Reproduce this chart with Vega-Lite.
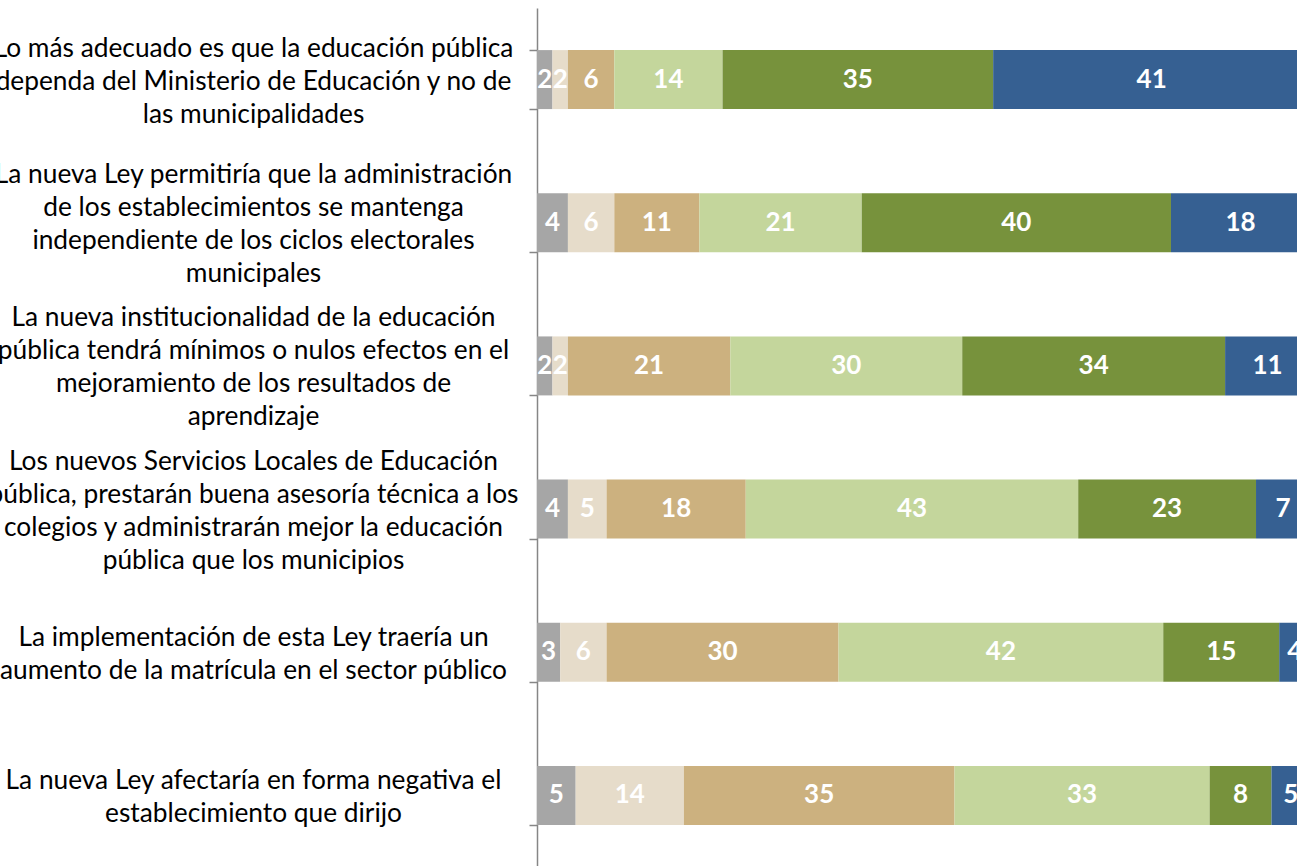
{
  "$schema": "https://vega.github.io/schema/vega-lite/v6.json",
  "autosize": {"type": "none"},
  "padding": {"left": 537, "top": 8, "right": 0, "bottom": 0},
  "width": 760,
  "height": 859,
  "background": "white",
  "config": {"view": {"stroke": null}},
  "datasets": {
    "rows": [
      {"item": "Lo más adecuado es que la educación pública|dependa del Ministerio de Educación y no de|las municipalidades", "cat": "NS/NR", "ord": 1, "value": 2},
      {"item": "Lo más adecuado es que la educación pública|dependa del Ministerio de Educación y no de|las municipalidades", "cat": "Muy en desacuerdo", "ord": 2, "value": 2},
      {"item": "Lo más adecuado es que la educación pública|dependa del Ministerio de Educación y no de|las municipalidades", "cat": "En desacuerdo", "ord": 3, "value": 6},
      {"item": "Lo más adecuado es que la educación pública|dependa del Ministerio de Educación y no de|las municipalidades", "cat": "Algo de acuerdo", "ord": 4, "value": 14},
      {"item": "Lo más adecuado es que la educación pública|dependa del Ministerio de Educación y no de|las municipalidades", "cat": "De acuerdo", "ord": 5, "value": 35},
      {"item": "Lo más adecuado es que la educación pública|dependa del Ministerio de Educación y no de|las municipalidades", "cat": "Muy de acuerdo", "ord": 6, "value": 41},
      {"item": "La nueva Ley permitiría que la administración|de los establecimientos se mantenga|independiente de los ciclos electorales|municipales", "cat": "NS/NR", "ord": 1, "value": 4},
      {"item": "La nueva Ley permitiría que la administración|de los establecimientos se mantenga|independiente de los ciclos electorales|municipales", "cat": "Muy en desacuerdo", "ord": 2, "value": 6},
      {"item": "La nueva Ley permitiría que la administración|de los establecimientos se mantenga|independiente de los ciclos electorales|municipales", "cat": "En desacuerdo", "ord": 3, "value": 11},
      {"item": "La nueva Ley permitiría que la administración|de los establecimientos se mantenga|independiente de los ciclos electorales|municipales", "cat": "Algo de acuerdo", "ord": 4, "value": 21},
      {"item": "La nueva Ley permitiría que la administración|de los establecimientos se mantenga|independiente de los ciclos electorales|municipales", "cat": "De acuerdo", "ord": 5, "value": 40},
      {"item": "La nueva Ley permitiría que la administración|de los establecimientos se mantenga|independiente de los ciclos electorales|municipales", "cat": "Muy de acuerdo", "ord": 6, "value": 18},
      {"item": "La nueva institucionalidad de la educación|pública tendrá mínimos o nulos efectos en el|mejoramiento de los resultados de|aprendizaje", "cat": "NS/NR", "ord": 1, "value": 2},
      {"item": "La nueva institucionalidad de la educación|pública tendrá mínimos o nulos efectos en el|mejoramiento de los resultados de|aprendizaje", "cat": "Muy en desacuerdo", "ord": 2, "value": 2},
      {"item": "La nueva institucionalidad de la educación|pública tendrá mínimos o nulos efectos en el|mejoramiento de los resultados de|aprendizaje", "cat": "En desacuerdo", "ord": 3, "value": 21},
      {"item": "La nueva institucionalidad de la educación|pública tendrá mínimos o nulos efectos en el|mejoramiento de los resultados de|aprendizaje", "cat": "Algo de acuerdo", "ord": 4, "value": 30},
      {"item": "La nueva institucionalidad de la educación|pública tendrá mínimos o nulos efectos en el|mejoramiento de los resultados de|aprendizaje", "cat": "De acuerdo", "ord": 5, "value": 34},
      {"item": "La nueva institucionalidad de la educación|pública tendrá mínimos o nulos efectos en el|mejoramiento de los resultados de|aprendizaje", "cat": "Muy de acuerdo", "ord": 6, "value": 11},
      {"item": "Los nuevos Servicios Locales de Educación|pública, prestarán buena asesoría técnica a los|colegios y administrarán mejor la educación|pública que los municipios", "cat": "NS/NR", "ord": 1, "value": 4},
      {"item": "Los nuevos Servicios Locales de Educación|pública, prestarán buena asesoría técnica a los|colegios y administrarán mejor la educación|pública que los municipios", "cat": "Muy en desacuerdo", "ord": 2, "value": 5},
      {"item": "Los nuevos Servicios Locales de Educación|pública, prestarán buena asesoría técnica a los|colegios y administrarán mejor la educación|pública que los municipios", "cat": "En desacuerdo", "ord": 3, "value": 18},
      {"item": "Los nuevos Servicios Locales de Educación|pública, prestarán buena asesoría técnica a los|colegios y administrarán mejor la educación|pública que los municipios", "cat": "Algo de acuerdo", "ord": 4, "value": 43},
      {"item": "Los nuevos Servicios Locales de Educación|pública, prestarán buena asesoría técnica a los|colegios y administrarán mejor la educación|pública que los municipios", "cat": "De acuerdo", "ord": 5, "value": 23},
      {"item": "Los nuevos Servicios Locales de Educación|pública, prestarán buena asesoría técnica a los|colegios y administrarán mejor la educación|pública que los municipios", "cat": "Muy de acuerdo", "ord": 6, "value": 7},
      {"item": "La implementación de esta Ley traería un|aumento de la matrícula en el sector público", "cat": "NS/NR", "ord": 1, "value": 3},
      {"item": "La implementación de esta Ley traería un|aumento de la matrícula en el sector público", "cat": "Muy en desacuerdo", "ord": 2, "value": 6},
      {"item": "La implementación de esta Ley traería un|aumento de la matrícula en el sector público", "cat": "En desacuerdo", "ord": 3, "value": 30},
      {"item": "La implementación de esta Ley traería un|aumento de la matrícula en el sector público", "cat": "Algo de acuerdo", "ord": 4, "value": 42},
      {"item": "La implementación de esta Ley traería un|aumento de la matrícula en el sector público", "cat": "De acuerdo", "ord": 5, "value": 15},
      {"item": "La implementación de esta Ley traería un|aumento de la matrícula en el sector público", "cat": "Muy de acuerdo", "ord": 6, "value": 4},
      {"item": "La nueva Ley afectaría en forma negativa el|establecimiento que dirijo", "cat": "NS/NR", "ord": 1, "value": 5},
      {"item": "La nueva Ley afectaría en forma negativa el|establecimiento que dirijo", "cat": "Muy en desacuerdo", "ord": 2, "value": 14},
      {"item": "La nueva Ley afectaría en forma negativa el|establecimiento que dirijo", "cat": "En desacuerdo", "ord": 3, "value": 35},
      {"item": "La nueva Ley afectaría en forma negativa el|establecimiento que dirijo", "cat": "Algo de acuerdo", "ord": 4, "value": 33},
      {"item": "La nueva Ley afectaría en forma negativa el|establecimiento que dirijo", "cat": "De acuerdo", "ord": 5, "value": 8},
      {"item": "La nueva Ley afectaría en forma negativa el|establecimiento que dirijo", "cat": "Muy de acuerdo", "ord": 6, "value": 5}
    ]
  },
  "data": {"name": "rows"},
  "transform": [
    {"stack": "value", "groupby": ["item"], "sort": [{"field": "ord", "order": "ascending"}], "as": ["x0", "x1"]},
    {"calculate": "(datum.x0 + datum.x1) / 2", "as": "mid"}
  ],
  "encoding": {
    "y": {
      "field": "item",
      "type": "nominal",
      "sort": null,
      "scale": {"paddingInner": 0.588, "paddingOuter": 0.294},
      "axis": {
        "title": null,
        "domain": true,
        "domainColor": "#868686",
        "domainWidth": 1.5,
        "ticks": true,
        "tickBand": "extent",
        "tickColor": "#868686",
        "tickWidth": 1.5,
        "tickSize": 8,
        "labelPadding": 276,
        "labelAlign": "center",
        "labelBaseline": "middle",
        "labelFont": "Lato",
        "labelFontSize": 26.3,
        "labelLineHeight": 33,
        "labelColor": "#000000",
        "labelLimit": 0,
        "labelOffset": {
          "condition": [
            {"test": "length(split(datum.label, '|')) == 4", "value": -48},
            {"test": "length(split(datum.label, '|')) == 3", "value": -31}
          ],
          "value": -15
        },
        "labelExpr": "split(datum.label, '|')"
      }
    }
  },
  "layer": [
    {
      "mark": {"type": "bar", "clip": true},
      "encoding": {
        "x": {"field": "x0", "type": "quantitative", "scale": {"domain": [0, 98.3], "nice": false, "zero": true}, "axis": null},
        "x2": {"field": "x1"},
        "color": {
          "field": "cat",
          "type": "nominal",
          "sort": ["NS/NR", "Muy en desacuerdo", "En desacuerdo", "Algo de acuerdo", "De acuerdo", "Muy de acuerdo"],
          "scale": {
            "domain": ["NS/NR", "Muy en desacuerdo", "En desacuerdo", "Algo de acuerdo", "De acuerdo", "Muy de acuerdo"],
            "range": ["#A6A6A6", "#E6DCCA", "#CCB17F", "#C4D69C", "#77923C", "#366092"]
          },
          "legend": null
        }
      }
    },
    {
      "mark": {"type": "text", "clip": true, "color": "white", "font": "Lato", "fontWeight": "bold", "fontSize": 26, "align": "center", "baseline": "middle"},
      "encoding": {
        "x": {"field": "mid", "type": "quantitative"},
        "text": {"field": "value", "type": "quantitative"}
      }
    }
  ]
}
